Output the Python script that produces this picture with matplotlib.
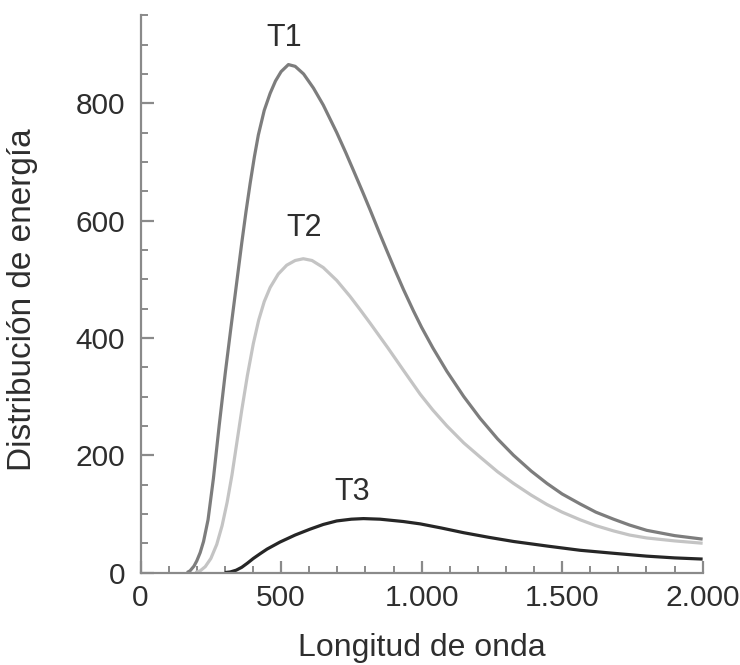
import matplotlib
matplotlib.use('Agg')
import matplotlib.pyplot as plt
from matplotlib.ticker import MultipleLocator, FuncFormatter

plt.rcParams['font.family'] = ['Liberation Sans', 'DejaVu Sans']

# valores (longitud de onda, distribucion de energia)
x_t1 = [165, 176, 190, 200, 212, 224, 240, 259, 280, 301, 320, 336, 360, 375, 390, 405, 419,
        440, 461, 480, 500, 526, 550, 580, 615, 650, 698, 730, 757, 790, 817, 850, 876,
        905, 935, 971, 1000, 1040, 1090, 1150, 1208, 1270, 1327, 1390, 1446, 1500, 1564,
        1620, 1683, 1740, 1801, 1900, 2000]
y_t1 = [0, 3, 11, 20, 34, 53, 90, 160, 252, 339, 412, 472, 562, 615, 664, 709, 746,
        788, 817, 838, 854, 866, 863, 850, 826, 797, 750, 716, 686, 649, 618, 579, 549,
        516, 483, 446, 418, 383, 343, 300, 263, 228, 200, 173, 152, 134, 117,
        103, 91, 81, 72, 63, 57]

x_t2 = [195, 212, 230, 250, 271, 290, 308, 325, 342, 360, 380, 401, 420, 440, 461, 490, 520,
        550, 579, 610, 650, 698, 745, 780, 817, 841, 880, 935, 995, 1040, 1090, 1150, 1208,
        1270, 1327, 1390, 1446, 1500, 1564, 1620, 1683, 1740, 1801, 1900, 2000]
y_t2 = [0, 3, 10, 24, 48, 80, 120, 166, 220, 277, 336, 390, 430, 462, 486, 509, 524,
        532, 535, 532, 520, 498, 471, 449, 425, 409, 383, 345, 304, 277, 250, 221, 197,
        172, 152, 132, 116, 103, 90, 80, 71, 64, 59, 54, 50]

x_t3 = [300, 319, 340, 360, 380, 401, 425, 450, 496, 550, 603, 650, 698, 750, 793, 852, 935,
        995, 1070, 1149, 1240, 1327, 1450, 1564, 1680, 1801, 1900, 2000]
y_t3 = [0, 1, 4, 9, 16, 24, 32, 40, 52, 64, 74, 82, 88, 91, 92, 91, 87,
        83, 76, 68, 60, 53, 45, 38, 33, 28, 25, 23]

curvas = ['T1', 'T2', 'T3']
colores = ['#7d7d7d', '#c4c4c4', '#262626']
etiquetas_pos = [(511, 885), (582, 561), (754, 112)]

fig = plt.figure(figsize=(7.4, 6.65), dpi=100)
ax = fig.add_axes([0.19, 0.139, 0.7595, 0.838])

for xs, ys, nombre, c, pos in zip([x_t1, x_t2, x_t3], [y_t1, y_t2, y_t3], curvas, colores, etiquetas_pos):
    ax.plot(xs, ys, color=c, lw=2.3, solid_capstyle='butt', solid_joinstyle='round')
    ax.text(pos[0], pos[1], nombre, fontsize=22, color='#2e2e2e', ha='center', va='bottom')

ax.set_xlim(0, 2000)
ax.set_ylim(0, 950)

for s in ['top', 'right']:
    ax.spines[s].set_visible(False)
for s in ['left', 'bottom']:
    ax.spines[s].set_color('#8a8a8a')
    ax.spines[s].set_linewidth(1.6)

ax.xaxis.set_major_locator(MultipleLocator(500))
ax.xaxis.set_minor_locator(MultipleLocator(100))
ax.yaxis.set_minor_locator(MultipleLocator(50))
ax.set_yticks([0, 200, 400, 600, 800])
ax.xaxis.set_major_formatter(FuncFormatter(lambda v, p: f'{int(v):,}'.replace(',', '.')))

ax.tick_params(which='major', direction='in', length=9, width=1.6, color='#8a8a8a',
               labelsize=21.5, labelcolor='#2e2e2e')
ax.tick_params(axis='x', which='major', pad=8)
ax.tick_params(axis='y', which='major', pad=11)
ax.tick_params(which='minor', direction='in', length=5, width=1.4, color='#8a8a8a')

ax.set_xlabel('Longitud de onda', fontsize=23, color='#2e2e2e', va='center')
ax.set_ylabel('Distribución de energía', fontsize=24, color='#2e2e2e', va='center')
ax.xaxis.set_label_coords(0.50, -0.1345)
ax.yaxis.set_label_coords(-0.211, 0.49)

plt.savefig('out.png', dpi=100)
print('finished')
